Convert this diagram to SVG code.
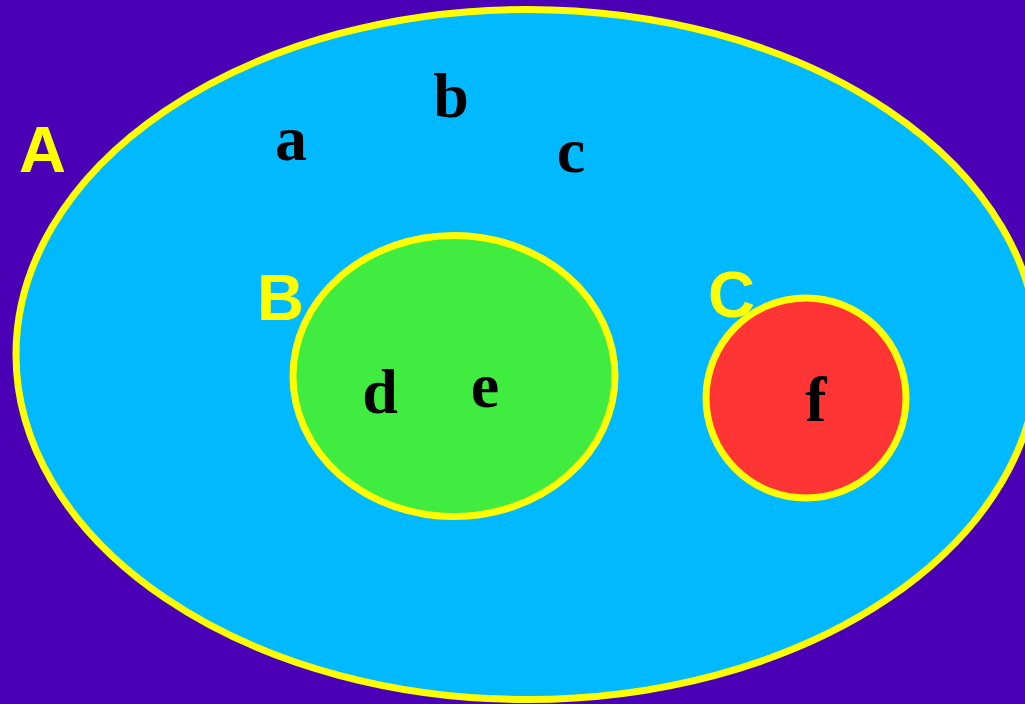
<svg xmlns="http://www.w3.org/2000/svg" width="1025" height="704" viewBox="0 0 1025 704">
<style>
.set{stroke:#FFFF00;stroke-width:7}
.lbl{font-family:"Liberation Sans",Arial,sans-serif;font-weight:bold;font-size:65px;fill:#FFFF00}
.el{font-family:"Liberation Serif","Times New Roman",serif;font-weight:bold;font-size:64px;fill:#000;text-anchor:middle}
</style>
<rect width="1025" height="704" fill="#4A00B4"/>
<g id="setA">
<ellipse class="set" cx="527" cy="354.5" rx="511" ry="345" fill="#00B9FF"/>
<text class="lbl" x="19" y="172">A</text>
<text class="el" x="291" y="160">a</text>
<text class="el" x="451" y="117">b</text>
<text class="el" x="571" y="172">c</text>
</g>
<g id="setB">
<ellipse class="set" cx="454" cy="376" rx="161" ry="140.5" fill="#3FEC3F"/>
<text class="lbl" x="257" y="320">B</text>
<text class="el" x="380" y="413">d</text>
<text class="el" x="485" y="407">e</text>
</g>
<g id="setC">
<circle class="set" cx="806" cy="398" r="100" fill="#FF3535"/>
<text class="lbl" x="708" y="317">C</text>
<text class="el" x="816" y="421">f</text>
</g>
<g id="connectors"/>
</svg>
